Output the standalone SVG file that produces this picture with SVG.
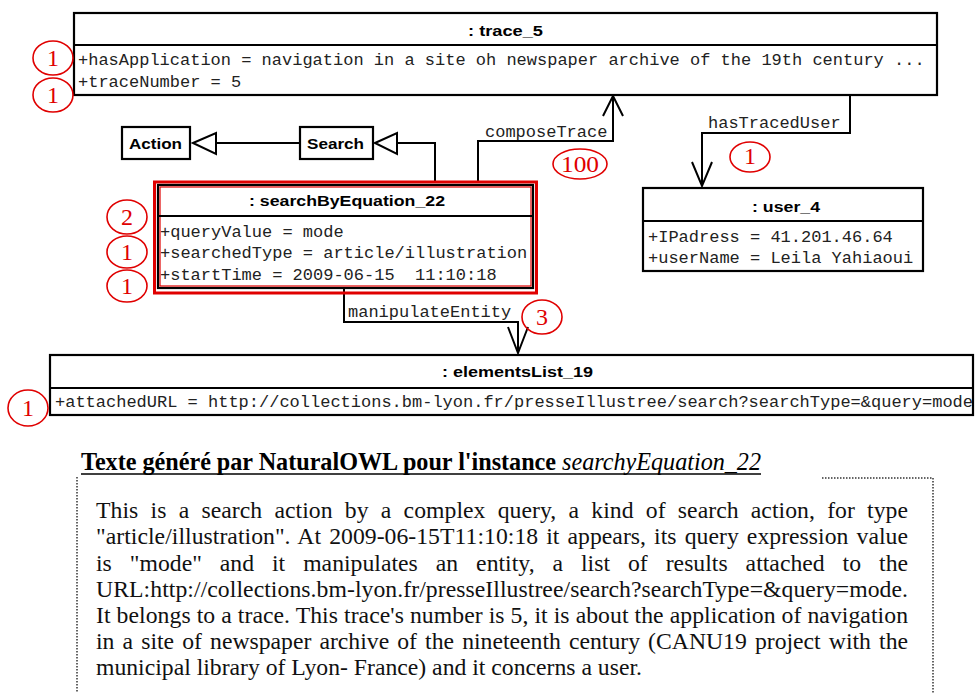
<svg xmlns="http://www.w3.org/2000/svg" width="975" height="693" viewBox="0 0 975 693">
<style>
.box{fill:#fff;stroke:#000;stroke-width:2.2}
.div{stroke:#000;stroke-width:2}
.hd{font-family:"Liberation Sans",Arial,sans-serif;font-weight:bold;font-size:15.5px;fill:#000}
.at{font-family:"Liberation Mono","Courier New",monospace;font-size:16px;fill:#222}
.cn{fill:none;stroke:#000;stroke-width:2}
.tri{fill:#fff;stroke:#000;stroke-width:2}
.num{fill:none;stroke:#e00000;stroke-width:1.6}
.nt{font-family:"Liberation Serif","Times New Roman",serif;font-size:24px;fill:#e00000;text-anchor:middle}
.body{font-family:"Liberation Serif","Times New Roman",serif;font-size:23.7px;fill:#111}
.dot{fill:none;stroke:#333;stroke-width:1.5;stroke-dasharray:1.5 1.5}
</style>
<rect width="975" height="693" fill="#fff"/>

<g id="connectors">
  <line class="cn" x1="216" y1="143" x2="300" y2="143"/>
  <polygon class="tri" points="193,143 216,133 216,154"/>
  <path class="cn" d="M435 183 V143 H397"/>
  <polygon class="tri" points="375,143 397,133 397,154"/>
  <path class="cn" d="M478 183 V141 H613 V96"/>
  <path class="cn" d="M603 116 L613 96 L623 116"/>
  <text class="at" x="485" y="137" textLength="122.4" lengthAdjust="spacingAndGlyphs">composeTrace</text>
  <path class="cn" d="M850 95 V133 H702 V186"/>
  <path class="cn" d="M692 162 L702 186 L712 162"/>
  <text class="at" x="708" y="128" textLength="132.6" lengthAdjust="spacingAndGlyphs">hasTracedUser</text>
  <path class="cn" d="M344 288 V322 H518 V353"/>
  <path class="cn" d="M508 327 L518 353 L528 327"/>
  <text class="at" x="348" y="317" textLength="163.2" lengthAdjust="spacingAndGlyphs">manipulateEntity</text>
</g>

<g id="trace_5">
  <rect class="box" x="74" y="13" width="863" height="82"/>
  <line class="div" x1="74" y1="45" x2="937" y2="45"/>
  <text class="hd" x="468" y="36" textLength="75" lengthAdjust="spacingAndGlyphs">: trace_5</text>
  <text class="at" x="78" y="65" textLength="846.6" lengthAdjust="spacingAndGlyphs">+hasApplication = navigation in a site oh newspaper archive of the 19th century ...</text>
  <text class="at" x="78" y="87" textLength="163.2" lengthAdjust="spacingAndGlyphs">+traceNumber = 5</text>
</g>

<g id="Action">
  <rect class="box" x="122" y="127" width="68" height="32"/>
  <text class="hd" x="129" y="149" textLength="53" lengthAdjust="spacingAndGlyphs">Action</text>
</g>

<g id="Search">
  <rect class="box" x="300" y="127" width="73" height="32"/>
  <text class="hd" x="307" y="149" textLength="57" lengthAdjust="spacingAndGlyphs">Search</text>
</g>

<g id="searchByEquation_22">
  <rect x="154.5" y="182" width="382" height="111" fill="none" stroke="#e00000" stroke-width="3"/>
  <rect class="box" x="158" y="185" width="375" height="103"/>
  <rect x="160" y="187" width="371" height="99" fill="none" stroke="#e00000" stroke-width="1.2"/>
  <line class="div" x1="158" y1="216" x2="533" y2="216"/>
  <text class="hd" x="249" y="206" textLength="196" lengthAdjust="spacingAndGlyphs">: searchByEquation_22</text>
  <text class="at" x="160" y="237" textLength="183.6" lengthAdjust="spacingAndGlyphs">+queryValue = mode</text>
  <text class="at" x="160" y="258" textLength="367.2" lengthAdjust="spacingAndGlyphs">+searchedType = article/illustration</text>
  <text class="at" x="160" y="280" textLength="336.6" lengthAdjust="spacingAndGlyphs" xml:space="preserve">+startTime = 2009-06-15  11:10:18</text>
</g>

<g id="user_4">
  <rect class="box" x="643" y="188" width="280" height="83"/>
  <line class="div" x1="643" y1="221" x2="923" y2="221"/>
  <text class="hd" x="752" y="212" textLength="68" lengthAdjust="spacingAndGlyphs">: user_4</text>
  <text class="at" x="648" y="242" textLength="244.8" lengthAdjust="spacingAndGlyphs">+IPadress = 41.201.46.64</text>
  <text class="at" x="648" y="263" textLength="265.2" lengthAdjust="spacingAndGlyphs">+userName = Leila Yahiaoui</text>
</g>

<g id="elementsList_19">
  <rect class="box" x="50" y="355" width="923" height="60"/>
  <line class="div" x1="50" y1="388" x2="973" y2="388"/>
  <text class="hd" x="442" y="377" textLength="151" lengthAdjust="spacingAndGlyphs">: elementsList_19</text>
  <text class="at" x="55" y="407" textLength="918" lengthAdjust="spacingAndGlyphs">+attachedURL = http://collections.bm-lyon.fr/presseIllustree/search?searchType=&amp;query=mode</text>
</g>

<g id="annotations">
  <ellipse class="num" cx="53" cy="58" rx="20" ry="17"/><text class="nt" x="53" y="66">1</text>
  <ellipse class="num" cx="53" cy="95" rx="20" ry="17"/><text class="nt" x="53" y="103">1</text>
  <ellipse class="num" cx="127" cy="217" rx="20" ry="17"/><text class="nt" x="127" y="225">2</text>
  <ellipse class="num" cx="127" cy="252" rx="20" ry="16"/><text class="nt" x="127" y="260">1</text>
  <ellipse class="num" cx="127" cy="286" rx="20" ry="16"/><text class="nt" x="127" y="294">1</text>
  <ellipse class="num" cx="580" cy="164" rx="27" ry="15"/><text class="nt" x="580" y="172" textLength="38" lengthAdjust="spacingAndGlyphs">100</text>
  <ellipse class="num" cx="750" cy="157" rx="20" ry="15"/><text class="nt" x="750" y="164">1</text>
  <ellipse class="num" cx="542" cy="317" rx="20" ry="17"/><text class="nt" x="542" y="325">3</text>
  <ellipse class="num" cx="28" cy="408" rx="20" ry="18"/><text class="nt" x="28" y="416">1</text>
</g>

<g id="generated-text">
  <path class="dot" d="M77 477 V693 M822 478 H933 V693"/>
  <line x1="81" y1="474" x2="761" y2="474" stroke="#000" stroke-width="1.6"/>
  <text x="81" y="470" font-family="'Liberation Serif','Times New Roman',serif" font-size="24.2" fill="#000" textLength="680" lengthAdjust="spacing"><tspan font-weight="bold">Texte généré par NaturalOWL pour l'instance </tspan><tspan font-style="italic">searchyEquation_22</tspan></text>
  <text class="body" x="96" y="518" word-spacing="6.3" textLength="812" lengthAdjust="spacing">This is a search action by a complex query, a kind of search action, for type</text>
  <text class="body" x="96" y="544" word-spacing="2.1" textLength="812" lengthAdjust="spacing">"article/illustration". At 2009-06-15T11:10:18 it appears, its query expression value</text>
  <text class="body" x="96" y="571" word-spacing="12" textLength="812" lengthAdjust="spacing">is "mode" and it manipulates an entity, a list of results attached to the</text>
  <text class="body" x="96" y="597" textLength="812" lengthAdjust="spacing">URL:http://collections.bm-lyon.fr/presseIllustree/search?searchType=&amp;query=mode.</text>
  <text class="body" x="96" y="623" textLength="812" lengthAdjust="spacing">It belongs to a trace. This trace's number is 5, it is about the application of navigation</text>
  <text class="body" x="96" y="649" word-spacing="2.2" textLength="812" lengthAdjust="spacing">in a site of newspaper archive of the nineteenth century (CANU19 project with the</text>
  <text class="body" x="96" y="675">municipal library of Lyon- France) and it concerns a user.</text>
</g>
</svg>
